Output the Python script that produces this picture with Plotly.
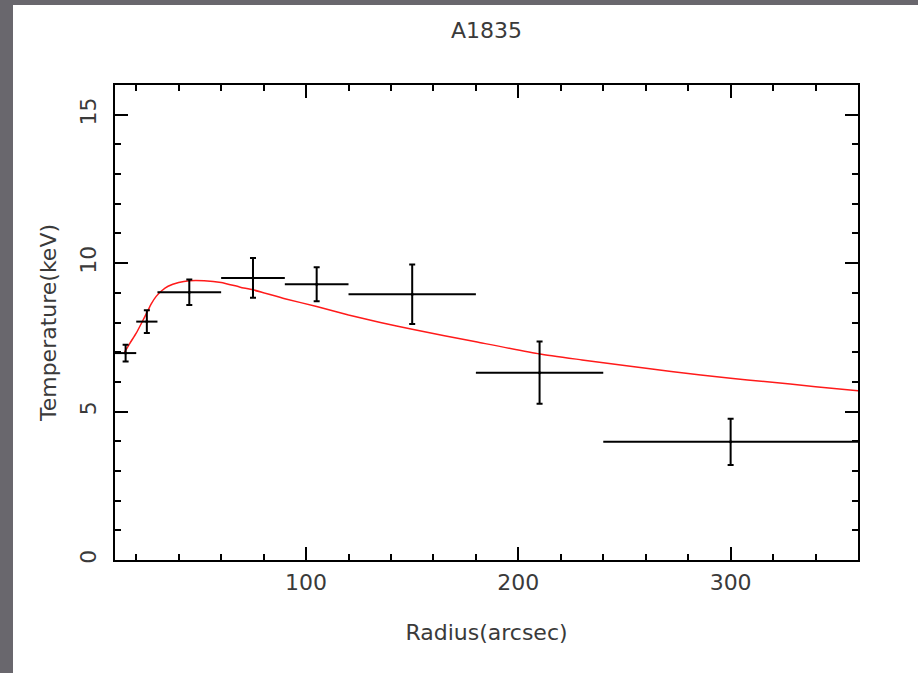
import plotly.graph_objects as go

# Measured temperature profile (annular bins)
radius = [15, 25, 45, 75, 105, 150, 210, 300]
radius_halfwidth = [5, 5, 15, 15, 15, 30, 30, 60]
temperature = [6.97, 8.03, 9.02, 9.50, 9.29, 8.95, 6.31, 3.98]
temperature_err = [0.28, 0.38, 0.43, 0.67, 0.57, 1.00, 1.05, 0.78]

# Model temperature curve
model_radius = [14.5, 17, 20, 23, 25, 27, 29.4, 32, 35, 40, 45, 52, 60, 69,
                75, 90, 105, 120, 135, 150, 180, 210, 230, 250, 272, 300,
                316, 340, 360]
model_temperature = [7.0, 7.3, 7.64, 8.05, 8.33, 8.62, 8.88, 9.07, 9.22, 9.35,
                     9.41, 9.41, 9.35, 9.19, 9.10, 8.80, 8.54, 8.25, 8.00,
                     7.77, 7.35, 6.94, 6.74, 6.55, 6.35, 6.12, 6.01, 5.84, 5.70]

x_ticks = [100, 200, 300]
y_ticks = [0, 5, 10, 15]

FONT = "DejaVu Sans"
INK = "#3a3a3a"

fig = go.Figure()

fig.add_trace(go.Scatter(
    x=model_radius, y=model_temperature, mode="lines",
    line=dict(color="#ff1a1a", width=1.5, shape="spline", smoothing=0.5),
    showlegend=False, hoverinfo="skip",
))

fig.add_trace(go.Scatter(
    x=radius, y=temperature, mode="markers",
    marker=dict(color="black", size=3),
    error_x=dict(type="data", array=radius_halfwidth, color="black",
                 thickness=2, width=0),
    error_y=dict(type="data", array=temperature_err, color="black",
                 thickness=2, width=3),
    showlegend=False,
))

# white page panel over the grey surround
fig.add_shape(type="rect", xref="paper", yref="paper",
              x0=(13 - 115) / 743, x1=(918 - 115) / 743,
              y0=(560 - 673) / 475, y1=(560 - 5) / 475,
              fillcolor="white", line=dict(width=0), layer="below")

axis_common = dict(
    showgrid=False, zeroline=False, showline=True, linecolor="black",
    linewidth=2, mirror="ticks", ticks="inside", tickcolor="black",
    tickwidth=2, ticklen=13,
    tickfont=dict(family=FONT, size=22, color=INK),
)

fig.update_xaxes(
    range=[10, 360], tickvals=x_ticks, ticklabelstandoff=2,
    minor=dict(dtick=20, tick0=0, ticks="inside", ticklen=6,
               tickwidth=2, tickcolor="black"),
    title=dict(text="Radius(arcsec)", standoff=30,
               font=dict(family=FONT, size=22, color=INK)),
    **axis_common,
)
fig.update_yaxes(
    range=[0, 16], tickvals=y_ticks, tickangle=-90, ticklabelstandoff=8,
    minor=dict(dtick=1, tick0=0, ticks="inside", ticklen=6,
               tickwidth=2, tickcolor="black"),
    title=dict(text="Temperature(keV)", standoff=14,
               font=dict(family=FONT, size=22, color=INK)),
    **axis_common,
)

fig.update_layout(
    width=918, height=673,
    margin=dict(l=115, r=60, t=85, b=113),
    paper_bgcolor="#69676d", plot_bgcolor="white",
    title=dict(text="A1835", x=0.5, xanchor="center", xref="paper",
               y=1 - 30 / 673, yanchor="middle",
               font=dict(family=FONT, size=22, color=INK)),
)

fig.write_html("out.html")
